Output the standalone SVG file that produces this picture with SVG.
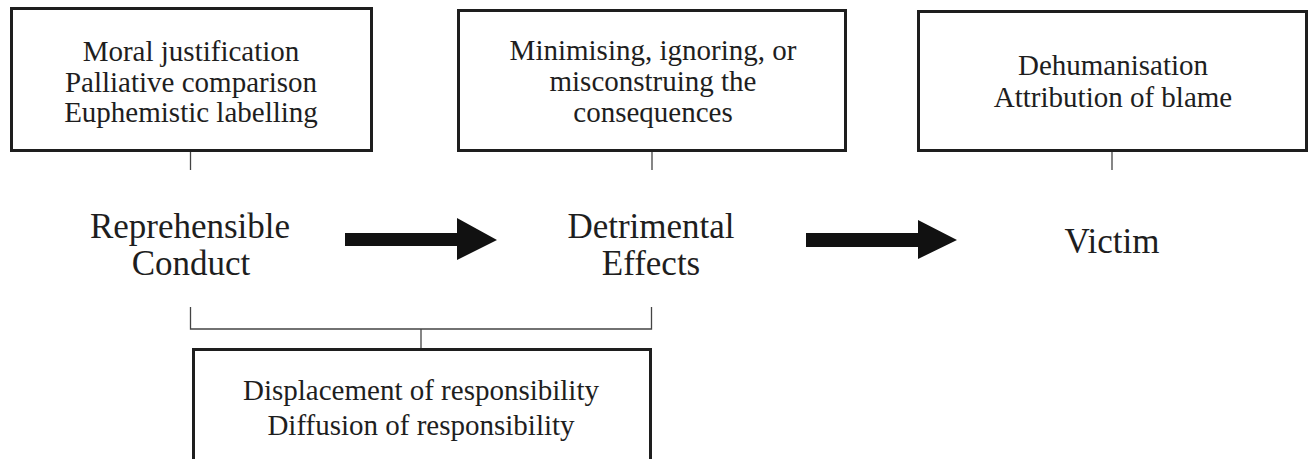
<svg xmlns="http://www.w3.org/2000/svg" width="1312" height="459" viewBox="0 0 1312 459">
<style>
.box{fill:#fff;stroke:#1e1e1e;stroke-width:3}
.t{font-family:"Liberation Serif","Times New Roman",serif;fill:#1e1e1e;text-anchor:middle}
.s{font-size:29px}
.b{font-size:35px}
.ln{stroke:#444;stroke-width:1.3;fill:none}
.ar{fill:#111}
</style>
<rect width="1312" height="459" fill="#fff"/>
<g id="connectors">
<line class="ln" x1="190.5" y1="152" x2="190.5" y2="170"/>
<line class="ln" x1="652" y1="152" x2="652" y2="170"/>
<line class="ln" x1="1112" y1="152" x2="1112" y2="170"/>
<polyline class="ln" points="190.5,307 190.5,329 651.5,329 651.5,307"/>
<line class="ln" x1="421" y1="329" x2="421" y2="349"/>
<polygon class="ar" points="345,233 457,233 457,218 497,240 457,260 457,246 345,246"/>
<polygon class="ar" points="806,233 918,233 918,220 957,240 918,259 918,247 806,247"/>
</g>
<g id="box-justification">
<rect class="box" x="11.5" y="8.5" width="360" height="142"/>
<text class="t s" x="191" y="61">Moral justification</text>
<text class="t s" x="191" y="92">Palliative comparison</text>
<text class="t s" x="191" y="122">Euphemistic labelling</text>
</g>
<g id="box-consequences">
<rect class="box" x="458.5" y="10.5" width="387" height="140"/>
<text class="t s" x="653" y="60">Minimising, ignoring, or</text>
<text class="t s" x="653" y="91">misconstruing the</text>
<text class="t s" x="653" y="122">consequences</text>
</g>
<g id="box-victim">
<rect class="box" x="918.5" y="11.5" width="388" height="139"/>
<text class="t s" x="1113" y="75">Dehumanisation</text>
<text class="t s" x="1113" y="107">Attribution of blame</text>
</g>
<g id="conduct">
<text class="t b" x="190" y="238">Reprehensible</text>
<text class="t b" x="191" y="275">Conduct</text>
</g>
<g id="effects">
<text class="t b" x="651" y="238">Detrimental</text>
<text class="t b" x="651" y="275">Effects</text>
</g>
<g id="victim">
<text class="t b" x="1112" y="253">Victim</text>
</g>
<g id="box-responsibility">
<rect class="box" x="193.5" y="349.5" width="457" height="130"/>
<text class="t s" x="421" y="400">Displacement of responsibility</text>
<text class="t s" x="421" y="435">Diffusion of responsibility</text>
</g>
</svg>
